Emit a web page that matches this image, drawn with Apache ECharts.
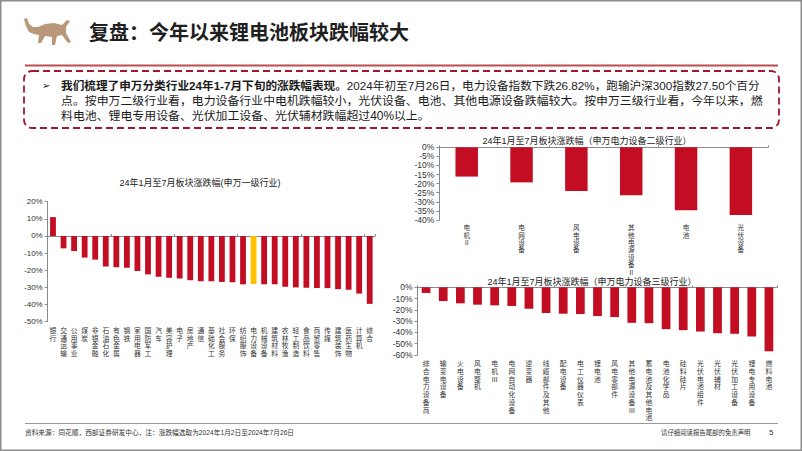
<!DOCTYPE html>
<html><head><meta charset="utf-8">
<script src="https://cdn.jsdelivr.net/npm/echarts@6/dist/echarts.min.js"></script>
<style>html,body{margin:0;padding:0;background:#fff}#c{width:802px;height:451px}</style>
</head><body><div id="c"></div>
<script>
// ---------- data ----------
const cat1 = ['银行','交通运输','公用事业','煤炭','非银金融','石油石化','有色金属','钢铁','家用电器','国防军工','汽车','美容护理','电子','房地产','通信','基础化工','社会服务','环保','纺织服饰','电力设备','机械设备','建筑材料','农林牧渔','轻工制造','食品饮料','商贸零售','传媒','建筑装饰','医药生物','计算机','综合'];
const val1 = [11, -7.2, -8.8, -12.6, -13.8, -17.8, -18.2, -18.6, -20.4, -22.4, -23.8, -24.4, -24.8, -25.8, -26.4, -26.4, -26.8, -27.0, -28.2, -28.0, -28.2, -28.2, -29.6, -30.0, -30.2, -30.4, -30.4, -31.0, -31.4, -33.6, -39.6];
const highlight1 = '电力设备';

const cat2 = ['电机Ⅱ','电网设备','风电设备','其他电源设备Ⅱ','电池','光伏设备'];
const val2 = [-16.1, -19.3, -24.0, -26.4, -34.7, -37.2];

const cat3 = ['综合电力设备商','输变电设备','火电设备','风电整机','电机Ⅲ','电网自动化设备','逆变器','线缆部件及其他','配电设备','电工仪器仪表','锂电池','风电零部件','其他电源设备Ⅲ','蓄电池及其他电池','电池化学品','硅料硅片','光伏电池组件','光伏辅材','光伏加工设备','锂电专用设备','燃料电池'];
const val3 = [-5.0, -12.2, -14.2, -15.4, -16.0, -16.6, -19.0, -22.8, -23.4, -23.7, -25.5, -26.4, -31.5, -31.8, -37.1, -38.0, -39.2, -40.7, -41.2, -43.6, -56.7];

const title1 = '24年1月至7月板块涨跌幅(申万一级行业)';
const title2 = '24年1月至7月板块涨跌幅（申万电力设备二级行业）';
const title3 = '24年1月至7月板块涨跌幅（申万电力设备三级行业）';
const pageTitle = '复盘：今年以来锂电池板块跌幅较大';
const bodyBold = '我们梳理了申万分类行业24年1-7月下旬的涨跌幅表现。';
const body1 = '2024年初至7月26日，电力设备指数下跌26.82%，跑输沪深300指数27.50个百分';
const body2 = '点。按申万二级行业看，电力设备行业中电机跌幅较小，光伏设备、电池、其他电源设备跌幅较大。按申万三级行业看，今年以来，燃';
const body3 = '料电池、锂电专用设备、光伏加工设备、光伏辅材跌幅超过40%以上。';
const sourceText = '资料来源：同花顺，西部证券研发中心，注：涨跌幅选取为2024年1月2日至2024年7月26日';
const disclaimer = '请仔细阅读报告尾部的免责声明';
const pageNo = '5';

// ---------- styles ----------
const CJK = '"Liberation Sans", "Noto Sans CJK SC", sans-serif';
const LAT = '"Liberation Sans", Arial, sans-serif';
const RED = '#c30d23';
const YEL = '#ffc000';
const AX = '#8a8a8a';

const vert = v => v.split('').join('\n');

function catAxes(grid, cats, fs, lh, margin) {
  return [
    { type: 'category', gridIndex: grid, data: cats, position: 'bottom',
      axisLine: { show: false, onZero: false }, axisTick: { show: false },
      axisLabel: { interval: 0, formatter: vert, fontFamily: CJK, fontSize: fs, lineHeight: lh,
        color: '#333', margin: margin, verticalAlign: 'top' } },
    { type: 'category', gridIndex: grid, data: cats, position: 'top',
      axisLine: { show: true, onZero: true, lineStyle: { color: AX, width: 1 } },
      axisTick: { show: true, length: 2, lineStyle: { color: AX } },
      axisLabel: { show: false } }
  ];
}
function valAxis(grid, min, max, interval, fs) {
  return { type: 'value', gridIndex: grid, min, max, interval,
    axisLine: { show: true, lineStyle: { color: AX, width: 1 } },
    axisTick: { show: true, length: 3, lineStyle: { color: AX } },
    splitLine: { show: false },
    axisLabel: { formatter: v => v + '%', fontFamily: LAT, fontSize: fs, color: '#333', margin: 5 } };
}

const chart = echarts.init(document.getElementById('c'), null, { renderer: 'svg' });

const bullPts = [[0,1],[3,0],[5,6],[9,9],[14,9],[21,6],[30,5],[38,7],[43,2],[46,3],[42,9],[42,15],[47,24],[44,25],[38,17],[33,18],[31,27],[28,27],[28,19],[21,18],[17,25],[14,25],[15,17],[10,16],[5,14],[2,8]];

chart.setOption({
  animation: false,
  grid: [
    { left: 47.7, top: 201.7, width: 327.3, height: 120 },
    { left: 439.3, top: 147.3, width: 329, height: 72.7 },
    { left: 417.5, top: 287.3, width: 360, height: 67.7 }
  ],
  xAxis: [].concat(catAxes(0, cat1, 6.8, 7.7, 5), catAxes(1, cat2, 6.6, 7.4, 4), catAxes(2, cat3, 6.8, 7.7, 5)),
  yAxis: [ valAxis(0, -50, 20, 10, 8), valAxis(1, -40, 0, 5, 8.5), valAxis(2, -60, 0, 10, 8.5) ],
  series: [
    { type: 'bar', xAxisIndex: 0, yAxisIndex: 0, barWidth: '55%',
      data: val1.map((v, i) => ({ value: v, itemStyle: { color: cat1[i] === highlight1 ? YEL : RED } })) },
    { type: 'bar', xAxisIndex: 2, yAxisIndex: 1, barWidth: '41%', itemStyle: { color: RED }, data: val2 },
    { type: 'bar', xAxisIndex: 4, yAxisIndex: 2, barWidth: '51%', itemStyle: { color: RED }, data: val3 }
  ],
  graphic: [
    { type: 'rect', silent: true, shape: { x: 0.75, y: 0.75, width: 800.5, height: 449.5 },
      style: { fill: 'none', stroke: '#8c8c8c', lineWidth: 1.5 } },
    { type: 'polygon', silent: true, x: 24, y: 18, shape: { points: bullPts }, style: { fill: '#b9977a' } },
    { type: 'text', x: 89, y: 33, style: { text: pageTitle, fontFamily: CJK, fontSize: 20, fontWeight: 'bold', fill: '#1f1f1f', verticalAlign: 'middle' } },
    { type: 'line', silent: true, shape: { x1: 25, y1: 65.5, x2: 778, y2: 65.5 }, style: { stroke: '#be4b52', lineWidth: 2 } },
    { type: 'rect', silent: true, shape: { x: 24, y: 71, width: 755, height: 57, r: 8 },
      style: { fill: 'none', stroke: '#a3162d', lineWidth: 1.8, lineDash: [7, 4] } },
    { type: 'text', x: 42, y: 85.5, style: { text: '➢', fontSize: 10, fontFamily: '"DejaVu Sans", sans-serif', fill: '#222', verticalAlign: 'middle' } },
    { type: 'text', x: 61, y: 85.5, style: {
        text: '{b|' + bodyBold + '}{n|' + body1 + '}', verticalAlign: 'middle',
        rich: { b: { fontFamily: CJK, fontSize: 11.65, fontWeight: 'bold', fill: '#1a1a1a' },
                n: { fontFamily: CJK, fontSize: 11.65, fill: '#1a1a1a' } } } },
    { type: 'text', x: 61, y: 100.7, style: { text: body2, fontFamily: CJK, fontSize: 11.9, fill: '#1a1a1a', verticalAlign: 'middle' } },
    { type: 'text', x: 61, y: 115.7, style: { text: body3, fontFamily: CJK, fontSize: 11.9, fill: '#1a1a1a', verticalAlign: 'middle' } },
    { type: 'text', x: 200, y: 182.7, style: { text: title1, fontFamily: CJK, fontSize: 9, fill: '#222', align: 'center', verticalAlign: 'middle' } },
    { type: 'text', x: 587, y: 141, style: { text: title2, fontFamily: CJK, fontSize: 9, fill: '#222', align: 'center', verticalAlign: 'middle' } },
    { type: 'text', x: 592, y: 282.3, style: { text: title3, fontFamily: CJK, fontSize: 9, fill: '#222', align: 'center', verticalAlign: 'middle' } },
    { type: 'line', silent: true, shape: { x1: 25, y1: 423.5, x2: 778, y2: 423.5 }, style: { stroke: '#9a9a9a', lineWidth: 1 } },
    { type: 'text', x: 25, y: 432.7, style: { text: sourceText, fontFamily: CJK, fontSize: 6.7, fill: '#333', verticalAlign: 'middle' } },
    { type: 'text', x: 661, y: 432.7, style: { text: disclaimer, fontFamily: CJK, fontSize: 6.4, fill: '#333', verticalAlign: 'middle' } },
    { type: 'text', x: 769, y: 432.7, style: { text: pageNo, fontFamily: LAT, fontSize: 8, fill: '#333', verticalAlign: 'middle' } }
  ]
});
</script></body></html>
